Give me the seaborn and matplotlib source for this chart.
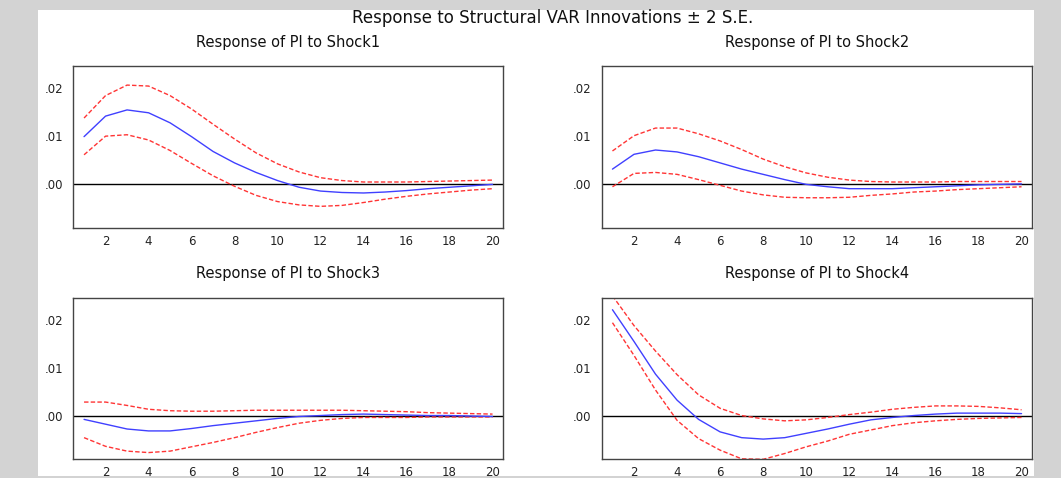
import matplotlib
matplotlib.use("Agg")
import matplotlib.pyplot as plt
import seaborn as sns
import numpy as np
import pandas as pd
from matplotlib.ticker import FixedLocator, FuncFormatter, NullFormatter
from matplotlib.patches import Rectangle

# ---------------- data ----------------
periods = list(range(1, 21))

shock1_resp = [0.0099, 0.0142, 0.0155, 0.0149, 0.0128, 0.0099, 0.0068, 0.0044, 0.0024, 0.0007,
               -0.0007, -0.0015, -0.0018, -0.0019, -0.0017, -0.0014, -0.0010, -0.0007, -0.0004, -0.0001]
shock1_upper = [0.0138, 0.0185, 0.0207, 0.0205, 0.0185, 0.0157, 0.0125, 0.0094, 0.0065, 0.0042,
                0.0025, 0.0013, 0.0007, 0.0004, 0.0004, 0.0004, 0.0005, 0.0006, 0.0007, 0.0008]
shock1_lower = [0.0061, 0.0100, 0.0103, 0.0092, 0.0070, 0.0043, 0.0017, -0.0005, -0.0024, -0.0037,
                -0.0044, -0.0047, -0.0045, -0.0039, -0.0032, -0.0026, -0.0021, -0.0017, -0.0013, -0.0010]

shock2_resp = [0.0031, 0.0062, 0.0071, 0.0067, 0.0057, 0.0044, 0.0031, 0.0020, 0.0009, -0.0001,
               -0.0006, -0.0010, -0.0010, -0.0010, -0.0008, -0.0006, -0.0004, -0.0002, -0.0001, 0.0000]
shock2_upper = [0.0069, 0.0101, 0.0117, 0.0117, 0.0105, 0.0090, 0.0072, 0.0052, 0.0036, 0.0023,
                0.0014, 0.0008, 0.0005, 0.0004, 0.0004, 0.0004, 0.0005, 0.0005, 0.0005, 0.0005]
shock2_lower = [-0.0006, 0.0022, 0.0024, 0.0020, 0.0009, -0.0003, -0.0015, -0.0023, -0.0028, -0.0029,
                -0.0029, -0.0028, -0.0024, -0.0021, -0.0017, -0.0015, -0.0012, -0.0010, -0.0008, -0.0006]

shock3_resp = [-0.0007, -0.0017, -0.0027, -0.0031, -0.0031, -0.0026, -0.0020, -0.0015, -0.0010, -0.0005,
               -0.0001, 0.0001, 0.0003, 0.0004, 0.0003, 0.0002, 0.0001, 0.0001, 0.0000, -0.0001]
shock3_upper = [0.0029, 0.0029, 0.0022, 0.0014, 0.0011, 0.0010, 0.0010, 0.0011, 0.0012, 0.0012,
                0.0012, 0.0012, 0.0012, 0.0011, 0.0010, 0.0009, 0.0007, 0.0006, 0.0005, 0.0004]
shock3_lower = [-0.0045, -0.0063, -0.0073, -0.0076, -0.0073, -0.0064, -0.0055, -0.0045, -0.0034, -0.0024,
                -0.0015, -0.0009, -0.0005, -0.0003, -0.0003, -0.0003, -0.0002, -0.0002, -0.0002, -0.0002]

shock4_resp = [0.0221, 0.0155, 0.0087, 0.0033, -0.0007, -0.0033, -0.0045, -0.0048, -0.0045, -0.0036,
               -0.0027, -0.0017, -0.0008, -0.0003, 0.0001, 0.0004, 0.0006, 0.0006, 0.0006, 0.0005]
shock4_upper = [0.0250, 0.0188, 0.0135, 0.0086, 0.0044, 0.0016, 0.0001, -0.0006, -0.0010, -0.0008,
                -0.0003, 0.0003, 0.0008, 0.0014, 0.0018, 0.0021, 0.0021, 0.0020, 0.0017, 0.0013]
shock4_lower = [0.0194, 0.0126, 0.0054, -0.0009, -0.0047, -0.0071, -0.0089, -0.0090, -0.0078, -0.0064,
                -0.0052, -0.0038, -0.0029, -0.0020, -0.0014, -0.0010, -0.0007, -0.0005, -0.0004, -0.0003]

panel_titles = ["Response of PI to Shock1", "Response of PI to Shock2",
                "Response of PI to Shock3", "Response of PI to Shock4"]
main_title = "Response to Structural VAR Innovations \u00b1 2 S.E."
y_ticks = [0.0, 0.01, 0.02]
x_label_ticks = [2, 4, 6, 8, 10, 12, 14, 16, 18, 20]

panels = [
    (shock1_resp, shock1_upper, shock1_lower),
    (shock2_resp, shock2_upper, shock2_lower),
    (shock3_resp, shock3_upper, shock3_lower),
    (shock4_resp, shock4_upper, shock4_lower),
]

# ---------------- style ----------------
sns.set_style("white")
plt.rcParams["font.family"] = ["DejaVu Sans"]

W, H = 1061, 478
fig = plt.figure(figsize=(W / 100, H / 100), dpi=100)
fig.patch.set_facecolor("#d3d3d3")
fig.patches.append(Rectangle((38 / W, 1 - 475.5 / H), (1034 - 38) / W, (475.5 - 10) / H,
                             transform=fig.transFigure, facecolor="white",
                             edgecolor="none", zorder=-5))

def px_axes(left, top, right, bottom):
    return [left / W, 1 - bottom / H, (right - left) / W, (bottom - top) / H]

rects = [
    px_axes(73.3, 66, 503.3, 228.3),
    px_axes(601.7, 66, 1032.3, 228.3),
    px_axes(73.3, 297.7, 503.3, 459.3),
    px_axes(601.7, 297.7, 1032.3, 459.3),
]
ylims = [(-0.0093, 0.0247), (-0.0093, 0.0247), (-0.0090, 0.0246), (-0.0090, 0.0246)]
title_pads = [13.5, 13.5, 14.4, 14.4]

blue = "#4040ff"
red = "#ff3535"
dash = (0, (3.2, 1.6))

for i, (rect, (resp, up, lo)) in enumerate(zip(rects, panels)):
    ax = fig.add_axes(rect)
    ax.set_facecolor("white")
    ax.axhline(0, color="black", lw=1.0, zorder=1)
    df = pd.DataFrame({"period": periods, "resp": resp, "upper": up, "lower": lo})
    sns.lineplot(data=df, x="period", y="upper", ax=ax, color=red, lw=1.0,
                 linestyle=dash, zorder=2)
    sns.lineplot(data=df, x="period", y="lower", ax=ax, color=red, lw=1.0,
                 linestyle=dash, zorder=2)
    sns.lineplot(data=df, x="period", y="resp", ax=ax, color=blue, lw=1.0, zorder=3)
    ax.set_xlabel("")
    ax.set_ylabel("")
    ax.set_xlim(0.5, 20.5)
    ax.set_ylim(*ylims[i])

    ax.yaxis.set_major_locator(FixedLocator(y_ticks))
    ax.yaxis.set_major_formatter(FuncFormatter(lambda v, _: f"{v:.2f}".replace("0.", ".", 1)))
    ax.tick_params(axis="y", direction="out", length=4.2, width=0.9, pad=3.0,
                   labelsize=8.5, colors="#222222")

    ax.xaxis.set_major_locator(FixedLocator(x_label_ticks))
    ax.xaxis.set_minor_locator(FixedLocator(np.arange(1.5, 20.0, 1.0)))
    ax.xaxis.set_minor_formatter(NullFormatter())
    ax.tick_params(axis="x", which="major", length=0, pad=5.0, labelsize=8.5,
                   colors="#222222")
    ax.tick_params(axis="x", which="minor", direction="in", length=2.8, width=0.9,
                   color="#222222")

    for s in ax.spines.values():
        s.set_visible(True)
        s.set_color("#444444")
        s.set_linewidth(1.0)

    ax.set_title(panel_titles[i], fontsize=10.5, pad=title_pads[i], color="#111111")

fig.text(552.5 / W, 1 - 22.7 / H, main_title, ha="center", va="baseline",
         fontsize=12, color="#111111")

fig.savefig("out.png", dpi=100, facecolor=fig.get_facecolor())
